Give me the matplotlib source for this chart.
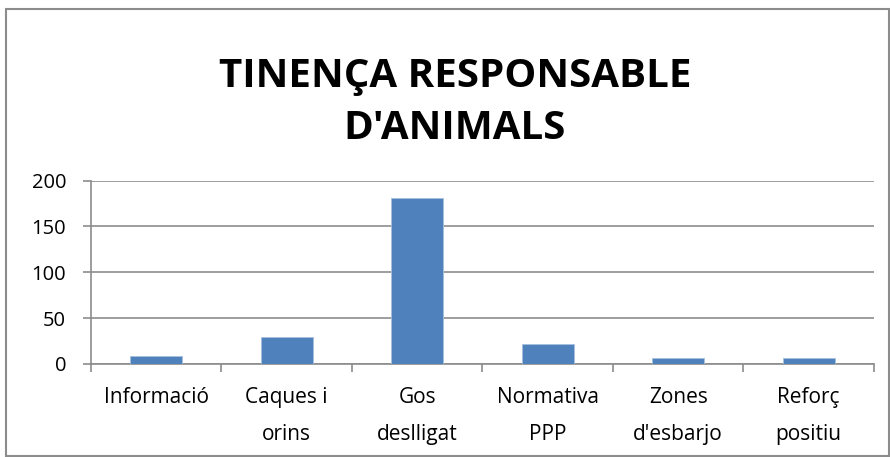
import matplotlib.pyplot as plt
from matplotlib.patches import Rectangle
import numpy as np

categories = ['Informació', 'Caques i\norins', 'Gos\ndeslligat', 'Normativa\nPPP',
              'Zones\nd\'esbarjo', 'Reforç\npositiu']
values = [9, 29, 181, 22, 6, 6]

plt.rcParams['font.family'] = ['Open Sans', 'DejaVu Sans']

fig = plt.figure(figsize=(8.9, 4.57), dpi=100)
ax = fig.add_axes([0.1022, 0.204, 0.8798, 0.4006])

x = np.arange(len(categories))
ax.bar(x, values, width=0.4, color='#4F81BD', edgecolor='#A7BFDE', linewidth=0.6, zorder=3)

ax.set_xlim(-0.5, len(categories) - 0.5)
ax.set_ylim(0, 200)
ax.set_yticks([0, 50, 100, 150, 200])
ax.yaxis.grid(True, color='#8C8C8C', linewidth=1.2, zorder=0)

ax.set_xticks(np.arange(-0.5, len(categories), 1))
ax.set_xticklabels([])
ax.set_xticks(x, minor=True)
ax.set_xticklabels(categories, minor=True, fontsize=15, linespacing=1.95)
ax.tick_params(axis='x', which='major', length=5.8, color='#8C8C8C', width=1.2)
ax.tick_params(axis='x', which='minor', length=0, pad=17)
ax.tick_params(axis='y', length=5.8, color='#8C8C8C', width=1.2, labelsize=14.5, pad=12)

for s in ['top', 'right']:
    ax.spines[s].set_visible(False)
for s in ['left', 'bottom']:
    ax.spines[s].set_color('#8C8C8C')
    ax.spines[s].set_linewidth(1.2)

fig.text(0.511, 0.776, "TINENÇA RESPONSABLE\nD'ANIMALS", ha='center', va='center',
         fontsize=29, fontweight='bold', linespacing=1.42)

fig.patches.append(Rectangle((6 / 890, 1 / 457), 883 / 890, 447 / 457, transform=fig.transFigure,
                             fill=False, edgecolor='#8C8C8C', linewidth=1.5))

plt.savefig('out.png', dpi=100)
